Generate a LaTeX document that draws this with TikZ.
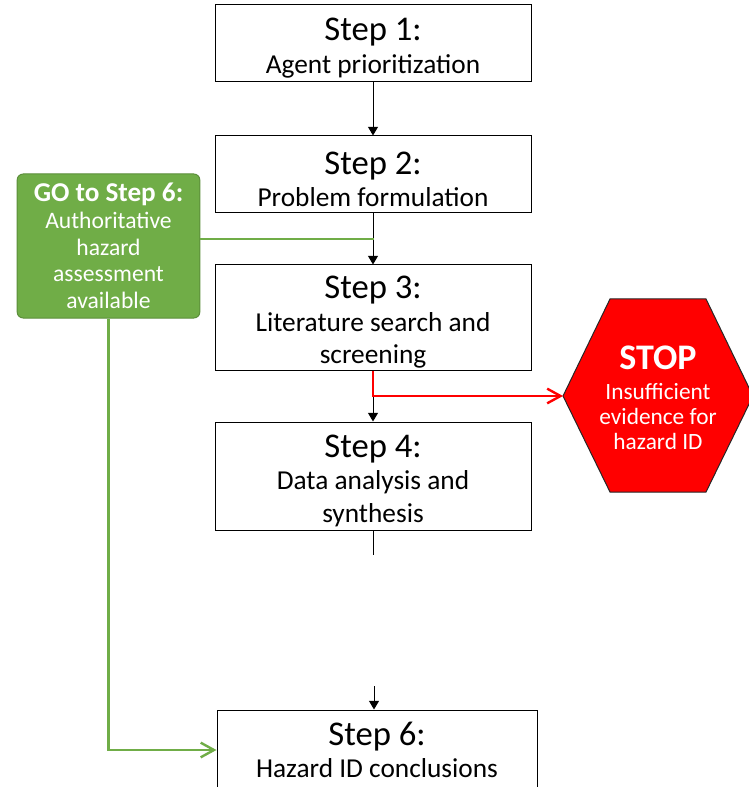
\documentclass[tikz,border=0pt]{standalone}
\usepackage{fontspec}
\setmainfont{Carlito}
\usetikzlibrary{arrows.meta}
\definecolor{gogreen}{HTML}{70AD47}
\definecolor{goedge}{HTML}{5B8E3A}
\definecolor{stopred}{HTML}{FF0000}
\newcommand{\steptitle}[1]{{\fontsize{26}{25}\selectfont\rule{0pt}{24pt}#1}}

\begin{document}
\begin{tikzpicture}[x=0.75pt, y=-0.75pt,
  stepbox/.style={draw, line width=0.75pt, minimum width=237pt, align=center, inner xsep=2pt, inner ysep=0pt, font=\fontsize{20.5}{24.5}\selectfont},
  gobox/.style={fill=gogreen, draw=goedge, line width=0.75pt, rounded corners=4.5pt, text=white, minimum width=137pt, minimum height=108pt, align=center, font=\fontsize{17.7}{20}\selectfont},
  stoptext/.style={text=white, align=center, font=\fontsize{17.5}{19}\selectfont},
  flow/.style={line width=0.75pt, -{Triangle[length=6.5pt,width=7.5pt]}},
  golink/.style={gogreen, line width=1.8pt},
  stoplink/.style={stopred, line width=1.8pt},
  barb/.style={-{Straight Barb[length=10pt,width=11pt]}}]
\useasboundingbox (0,0) rectangle (748,787);

\node[stepbox, minimum height=57.75pt] (s1) at (373,43.5) {\steptitle{Step 1:}\\Agent prioritization};
\node[stepbox, minimum height=57.75pt] (s2) at (373,174.5) {\steptitle{Step 2:}\\Problem formulation};
\node[stepbox, minimum height=78.75pt] (s3) at (373,317.5) {\steptitle{Step 3:}\\Literature search and\\screening};
\node[stepbox, minimum height=81pt] (s4) at (373,476) {\steptitle{Step 4:}\\Data analysis and\\synthesis};
\node[stepbox, minimum height=60pt, minimum width=240pt] (s6) at (377,750) {{\fontsize{26}{25}\selectfont Step 6:}\\Hazard ID conclusions};

\node[gobox] (go) at (108.5,246) {{\bfseries\fontsize{20.4}{20}\selectfont GO to Step 6:}\\Authoritative\\hazard\\assessment\\available};

\coordinate (stopW) at (563,396);
\filldraw[fill=stopred, draw=black!85, line width=0.75pt] (stopW) -- (610,299) -- (706,299) -- (753,396) -- (706,492) -- (610,492) -- cycle;
\node[stoptext] (stop) at (658,398) {{\bfseries\fontsize{27}{22}\selectfont STOP}\\[3pt]Insufficient\\evidence for\\hazard ID};

\coordinate (merge) at (374,239);
\coordinate (gapA) at (373,555);
\coordinate (gapB) at (374,686);

\draw[flow] (s1) -- (s2);
\draw[flow] (s2) -- (s3);
\draw[flow] (s3) -- (s4);
\draw[line width=0.75pt] (s4.south) -- (gapA);
\draw[flow] (gapB) -- (gapB |- s6.north);

\draw[golink] (go.east |- merge) -- (merge);
\draw[golink, barb] (go.south) |- (s6.west);
\draw[stoplink, barb] (s3.south) |- (stopW);
\end{tikzpicture}
\end{document}
